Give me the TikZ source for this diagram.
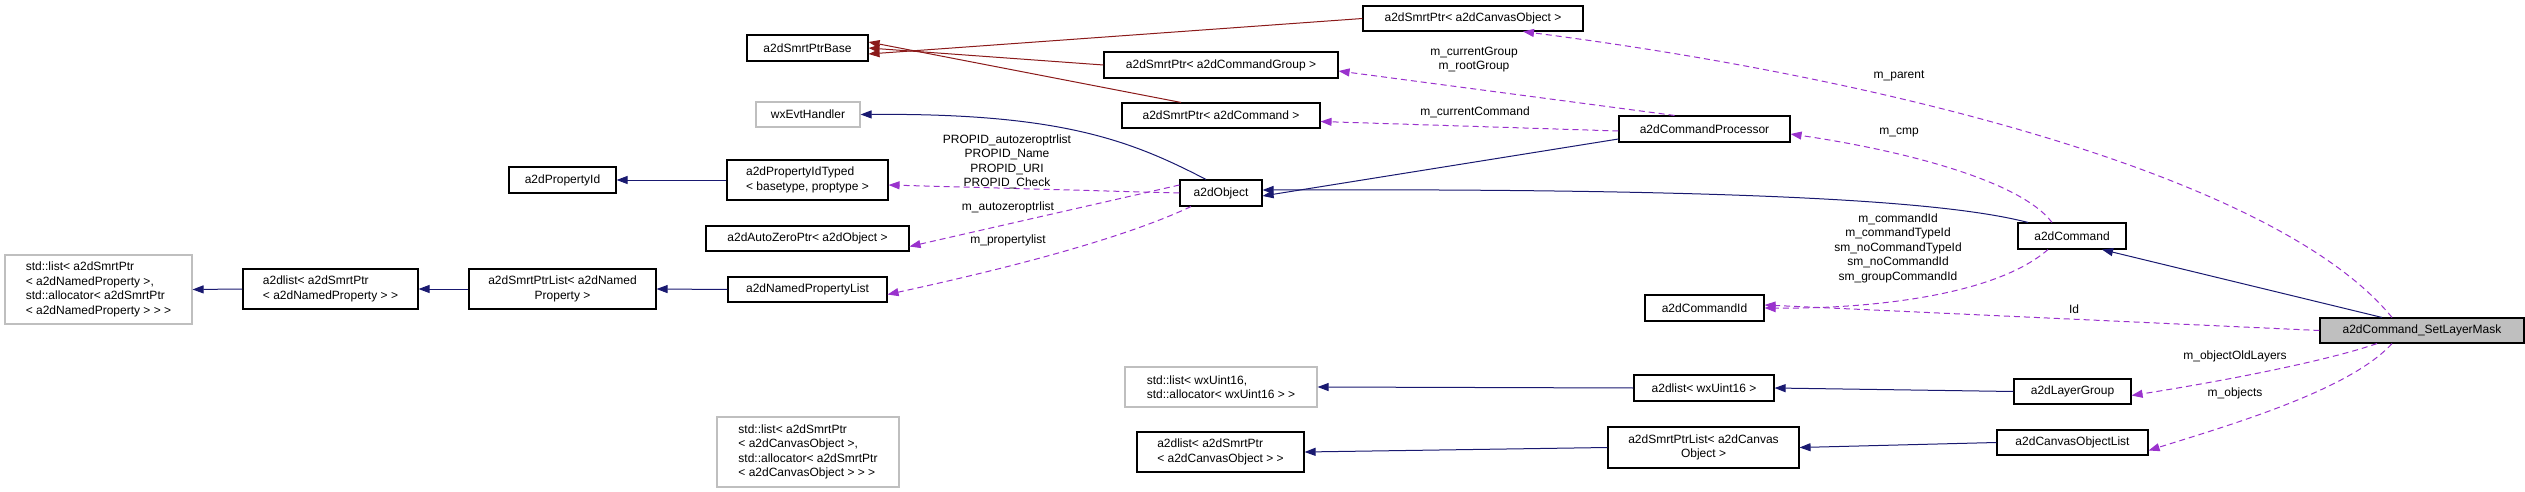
\documentclass[tikz,border=0pt]{standalone}
\usepackage{fontspec}
\setmainfont{Liberation Sans}
\usetikzlibrary{arrows.meta}
\definecolor{inh}{HTML}{191970}
\definecolor{tpl}{HTML}{8B1A1A}
\definecolor{use}{HTML}{9A32CD}
\definecolor{gb}{HTML}{BFBFBF}
\begin{document}
\begin{tikzpicture}[x=1pt,y=-1pt,
  every node/.style={font=\fontsize{12}{14.5}\selectfont, inner sep=0pt},
  box/.style={draw=black, line width=1.1pt, fill=white, align=center},
  gbox/.style={draw=gb, line width=1.1pt, fill=white, align=left},
  lbl/.style={align=center},
  ih/.style={-{Triangle[length=11pt,width=8pt,fill=inh]}, draw=inh, line width=1pt},
  tp/.style={-{Triangle[length=11pt,width=8pt,fill=tpl]}, draw=tpl, line width=1pt},
  us/.style={-{Triangle[length=11pt,width=8pt,fill=use]}, draw=use, line width=1pt, dash pattern=on 6pt off 4pt}]
\useasboundingbox (0,0) rectangle (2525,492);
% nodes
\node[gbox, minimum width=187pt, minimum height=69pt] (stdNP) at (98.5,289.5) {std::list< a2dSmrtPtr\\< a2dNamedProperty >,\\ std::allocator< a2dSmrtPtr\\< a2dNamedProperty > > >};
\node[box, align=left, minimum width=175pt, minimum height=40pt] (lNP) at (330.5,289) {a2dlist< a2dSmrtPtr\\< a2dNamedProperty > >};
\node[box, minimum width=187pt, minimum height=40pt] (slNP) at (562.5,289) {a2dSmrtPtrList< a2dNamed\\Property >};
\node[box, minimum width=159pt, minimum height=25pt] (npl) at (807.5,289.5) {a2dNamedPropertyList};
\node[box, minimum width=107pt, minimum height=26pt] (pid) at (562.5,180) {a2dPropertyId};
\node[box, align=left, minimum width=161pt, minimum height=40pt] (pidt) at (807.5,180) {a2dPropertyIdTyped\\< basetype, proptype >};
\node[box, minimum width=203pt, minimum height=25pt] (azp) at (807.5,238.5) {a2dAutoZeroPtr< a2dObject >};
\node[gbox, align=center, minimum width=104pt, minimum height=25pt] (wxe) at (808,114.5) {wxEvtHandler};
\node[box, minimum width=121pt, minimum height=26pt] (spb) at (807.5,48) {a2dSmrtPtrBase};
\node[gbox, minimum width=182pt, minimum height=70pt] (stdCO) at (808,452) {std::list< a2dSmrtPtr\\< a2dCanvasObject >,\\ std::allocator< a2dSmrtPtr\\< a2dCanvasObject > > >};
\node[box, minimum width=220pt, minimum height=25pt] (spco) at (1473,18.5) {a2dSmrtPtr< a2dCanvasObject >};
\node[box, minimum width=234pt, minimum height=26pt] (spcg) at (1221,65) {a2dSmrtPtr< a2dCommandGroup >};
\node[box, minimum width=198pt, minimum height=25pt] (spcm) at (1221,115.5) {a2dSmrtPtr< a2dCommand >};
\node[box, minimum width=82pt, minimum height=26pt] (obj) at (1221,193) {a2dObject};
\node[box, minimum width=171pt, minimum height=26pt] (cp) at (1704.5,129) {a2dCommandProcessor};
\node[box, minimum width=119pt, minimum height=26pt] (cid) at (1704.5,308) {a2dCommandId};
\node[gbox, minimum width=192pt, minimum height=40pt] (stdU) at (1221,387) {std::list< wxUint16,\\ std::allocator< wxUint16 > >};
\node[box, minimum width=140pt, minimum height=26pt] (lU) at (1704,388) {a2dlist< wxUint16 >};
\node[box, align=left, minimum width=167pt, minimum height=40pt] (lCO) at (1220.5,452) {a2dlist< a2dSmrtPtr\\< a2dCanvasObject > >};
\node[box, minimum width=191pt, minimum height=41pt] (slCO) at (1703.5,447.5) {a2dSmrtPtrList< a2dCanvas\\Object >};
\node[box, minimum width=108pt, minimum height=26pt] (cmd) at (2072,236) {a2dCommand};
\node[box, fill=gb, minimum width=204pt, minimum height=25pt] (slm) at (2422,330.5) {a2dCommand\_SetLayerMask};
\node[box, minimum width=117pt, minimum height=25pt] (lg) at (2072.5,391.5) {a2dLayerGroup};
\node[box, minimum width=151pt, minimum height=25pt] (col) at (2072.5,442.5) {a2dCanvasObjectList};
% template edges
\draw[tp] (spco.west) -- ([yshift=-6pt]spb.east);
\draw[tp] (spcg.west) -- ([yshift=0pt]spb.east);
\draw[tp] ([xshift=-40pt]spcm.north) -- ([yshift=6pt]spb.east);
% inheritance edges
\draw[ih] ([xshift=-15pt]obj.north) .. controls (1130,140) and (1060,113) .. (wxe.east);
\draw[ih] (pidt.west) -- (pid.east);
\draw[ih] (npl.west) -- (slNP.east);
\draw[ih] (slNP.west) -- (lNP.east);
\draw[ih] (lNP.west) -- (stdNP.east);
\draw[ih] ([yshift=-10pt]cp.west) -- ([yshift=-3pt]obj.east);
\draw[ih] ([xshift=-44pt]cmd.north) .. controls (1960,205) and (1800,188) .. ([yshift=3pt]obj.east);
\draw[ih] ([xshift=-40pt]slm.north) -- ([xshift=30pt]cmd.south);
\draw[ih] (lU.west) -- (stdU.east);
\draw[ih] (lg.west) -- (lU.east);
\draw[ih] (col.west) -- (slCO.east);
\draw[ih] (slCO.west) -- (lCO.east);
% usage edges
\draw[us] (obj.west) -- ([yshift=-5pt]pidt.east);
\draw[us] ([yshift=8pt]obj.west) -- ([yshift=-8pt]azp.east);
\draw[us] ([xshift=-30pt]obj.south) .. controls (1120,240) and (1000,270) .. ([yshift=-5pt]npl.east);
\draw[us] ([xshift=-30pt]cp.north) -- ([yshift=-6pt]spcg.east);
\draw[us] ([yshift=-2pt]cp.west) -- ([yshift=-6pt]spcm.east);
\draw[us] ([xshift=-20pt]cmd.north) .. controls (2020,180) and (1900,150) .. ([yshift=-5pt]cp.east);
\draw[us] ([xshift=-30pt]slm.north) .. controls (2280,180) and (1900,80) .. ([xshift=50pt]spco.south);
\draw[us] ([xshift=-24pt]cmd.south) .. controls (1990,300) and (1850,309) .. ([yshift=0pt]cid.east);
\draw[us] (slm.west) -- ([yshift=3pt]cid.east);
\draw[us] ([xshift=-45pt]slm.south) .. controls (2330,360) and (2230,380) .. ([yshift=-4pt]lg.east);
\draw[us] ([xshift=-30pt]slm.south) .. controls (2350,390) and (2230,425) .. ([yshift=-8pt]col.east);
% labels
\node[lbl] (l1) at (1474,59.5) {m\_currentGroup\\m\_rootGroup};
\node[lbl] (l2) at (1475,112) {m\_currentCommand};
\node[lbl] (l3) at (1007,162) {PROPID\_autozeroptrlist\\PROPID\_Name\\PROPID\_URI\\PROPID\_Check};
\node[lbl] (l4) at (1008,207) {m\_autozeroptrlist};
\node[lbl] (l5) at (1008,240) {m\_propertylist};
\node[lbl] (l6) at (1899,76) {m\_parent};
\node[lbl] (l7) at (1899,133) {m\_cmp};
\node[lbl] (l8) at (1898,248) {m\_commandId\\m\_commandTypeId\\sm\_noCommandTypeId\\sm\_noCommandId\\sm\_groupCommandId};
\node[lbl] (l9) at (2074,309) {Id};
\node[lbl] (l10) at (2235,356) {m\_objectOldLayers};
\node[lbl] (l11) at (2235,393) {m\_objects};
\end{tikzpicture}
\end{document}
